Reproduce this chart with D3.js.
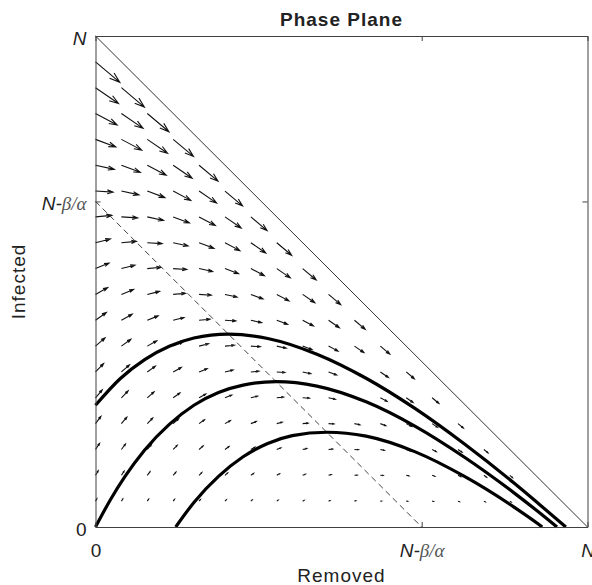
<!DOCTYPE html>
<html lang="en">
<head>
<meta charset="utf-8">
<title>Phase Plane</title>
<script src="https://cdn.jsdelivr.net/npm/d3@7"></script>
<style>
  body { margin: 0; background: #fff; }
  text { font-family: "Liberation Sans", Arial, sans-serif; fill: #222; }
  .axis path, .axis line { stroke: #404040; }
  .greek { font-family: "Liberation Serif", "DejaVu Serif", serif; font-style: italic; fill: #555; }
</style>
</head>
<body>
<script>
var popN = 1;
var alphaRate = 1;
var betaRate = 0.337;

// tick positions and labels (same on both axes)
var tickValues = [0, popN - betaRate / alphaRate, popN];
var tickLabels = ["0", "N-β/α", "N"];

// trajectories: removed (x) and infected (y)
var removedA  = [0, 0.05, 0.1, 0.15, 0.2, 0.27, 0.35, 0.45, 0.55, 0.65, 0.75, 0.85, 0.9, 0.956];
var infectedA = [0.248, 0.302, 0.341, 0.368, 0.385, 0.393, 0.384, 0.352, 0.303, 0.241, 0.169, 0.090, 0.048, 0];

var removedB  = [0, 0.03, 0.06, 0.1, 0.15, 0.2, 0.25, 0.3, 0.367, 0.45, 0.55, 0.65, 0.75, 0.85, 0.9, 0.938];
var infectedB = [0, 0.055, 0.103, 0.157, 0.209, 0.248, 0.274, 0.289, 0.296, 0.287, 0.255, 0.205, 0.142, 0.070, 0.031, 0];

var removedC  = [0.163, 0.2, 0.25, 0.3, 0.35, 0.4, 0.47, 0.55, 0.65, 0.75, 0.85, 0.9, 0.908];
var infectedC = [0, 0.05, 0.103, 0.143, 0.170, 0.186, 0.193, 0.185, 0.153, 0.103, 0.041, 0.006, 0];

// quiver grid: 20 x 20 points over [0,N]
var gridCount = 20;
var arrowScale = 0.155;

var w = 592, h = 585;
var padLeft = 95.5, padRight = 587.5, padTop = 36, padBottom = 527;

var svg = d3.select("body").append("svg")
    .attr("width", w)
    .attr("height", h);

var xScale = d3.scaleLinear().domain([0, popN]).range([padLeft, padRight]);
var yScale = d3.scaleLinear().domain([0, popN]).range([padBottom, padTop]);

// vector field dR/dt = beta*I, dI/dt = (alpha*S - beta)*I
var arrows = [];
for (var j = 1; j < gridCount; j++) {
  for (var i = 0; i + j < gridCount - 1; i++) {
    var R = i / (gridCount - 1) * popN, I = j / (gridCount - 1) * popN;
    var S = popN - R - I;
    arrows.push({ R: R, I: I, u: betaRate * I, v: (alphaRate * S - betaRate) * I });
  }
}

svg.append("g").selectAll("path")
  .data(arrows)
  .enter()
  .append("path")
  .attr("fill", "none")
  .attr("stroke", "#111")
  .attr("stroke-width", 1.1)
  .attr("d", function(d) {
    var x0 = xScale(d.R), y0 = yScale(d.I);
    var x1 = xScale(d.R + d.u * arrowScale), y1 = yScale(d.I + d.v * arrowScale);
    var dx = x1 - x0, dy = y1 - y0;
    var bx = x1 - 0.33 * dx, by = y1 - 0.33 * dy;   // back of the head
    var px = -0.33 * 0.33 * dy, py = 0.33 * 0.33 * dx;
    return "M" + x0 + "," + y0 + "L" + x1 + "," + y1 +
           "M" + (bx + px) + "," + (by + py) + "L" + x1 + "," + y1 +
           "L" + (bx - px) + "," + (by - py);
  });

// S = 0 line and nullcline
svg.append("line")
  .attr("x1", xScale(0)).attr("y1", yScale(popN))
  .attr("x2", xScale(popN)).attr("y2", yScale(0))
  .attr("stroke", "#333").attr("stroke-width", 1);

svg.append("line")
  .attr("x1", xScale(0)).attr("y1", yScale(tickValues[1]))
  .attr("x2", xScale(tickValues[1])).attr("y2", yScale(0))
  .attr("stroke", "#444").attr("stroke-width", 1)
  .attr("stroke-dasharray", "6,4");

// trajectories
var line = d3.line()
  .x(function(d) { return xScale(d[0]); })
  .y(function(d) { return yScale(d[1]); })
  .curve(d3.curveMonotoneX);

var curves = [
  d3.zip(removedA, infectedA),
  d3.zip(removedB, infectedB),
  d3.zip(removedC, infectedC)
];

svg.append("g").selectAll("path")
  .data(curves)
  .enter()
  .append("path")
  .attr("fill", "none")
  .attr("stroke", "#000")
  .attr("stroke-width", 3.2)
  .attr("d", line);

// Axes (box with inward ticks)
function noLabel() { return ""; }

var xAxis = svg.append("g").attr("class", "axis")
  .attr("transform", "translate(0," + padBottom + ")")
  .call(d3.axisBottom(xScale).tickValues(tickValues).tickSize(-5).tickSizeOuter(0).tickFormat(noLabel));
svg.append("g").attr("class", "axis")
  .attr("transform", "translate(0," + padTop + ")")
  .call(d3.axisTop(xScale).tickValues(tickValues).tickSize(-5).tickSizeOuter(0).tickFormat(noLabel));
var yAxis = svg.append("g").attr("class", "axis")
  .attr("transform", "translate(" + padLeft + ",0)")
  .call(d3.axisLeft(yScale).tickValues(tickValues).tickSize(-5).tickSizeOuter(0).tickFormat(noLabel));
svg.append("g").attr("class", "axis")
  .attr("transform", "translate(" + padRight + ",0)")
  .call(d3.axisRight(yScale).tickValues(tickValues).tickSize(-5).tickSizeOuter(0).tickFormat(noLabel));

// tick labels with italic symbols
function writeLabel(sel, label) {
  sel.text(null);
  if (label === "0") { sel.text("0"); return; }
  if (label === "N") { sel.append("tspan").attr("font-style", "italic").text("N"); return; }
  sel.append("tspan").attr("font-style", "italic").text("N-");
  sel.append("tspan").attr("class", "greek").text("β");
  sel.append("tspan").attr("class", "greek").attr("font-style", "normal").text("/");
  sel.append("tspan").attr("class", "greek").text("α");
}

xAxis.selectAll(".tick text")
  .attr("y", 0).attr("dy", 30)
  .attr("font-size", 19)
  .attr("fill", "#222")
  .style("font-family", "'Liberation Sans', Arial, sans-serif")
  .each(function(d, k) { writeLabel(d3.select(this), tickLabels[k]); });

yAxis.selectAll(".tick text")
  .attr("x", -9).attr("dy", 8)
  .attr("font-size", 19)
  .attr("fill", "#222")
  .style("font-family", "'Liberation Sans', Arial, sans-serif")
  .each(function(d, k) { writeLabel(d3.select(this), tickLabels[k]); });

// Title and axis labels
svg.append("text")
  .attr("x", (padLeft + padRight) / 2).attr("y", 26)
  .attr("text-anchor", "middle")
  .attr("font-size", 19).attr("font-weight", "bold")
  .attr("letter-spacing", 1)
  .attr("fill", "#000")
  .text("Phase Plane");

svg.append("text")
  .attr("x", (padLeft + padRight) / 2).attr("y", 582)
  .attr("text-anchor", "middle")
  .attr("font-size", 19)
  .attr("letter-spacing", 1)
  .attr("fill", "#262626")
  .text("Removed");

svg.append("text")
  .attr("transform", "translate(25," + (padTop + padBottom) / 2 + ") rotate(-90)")
  .attr("text-anchor", "middle")
  .attr("font-size", 19)
  .attr("letter-spacing", 1)
  .attr("fill", "#262626")
  .text("Infected");
</script>
</body>
</html>
